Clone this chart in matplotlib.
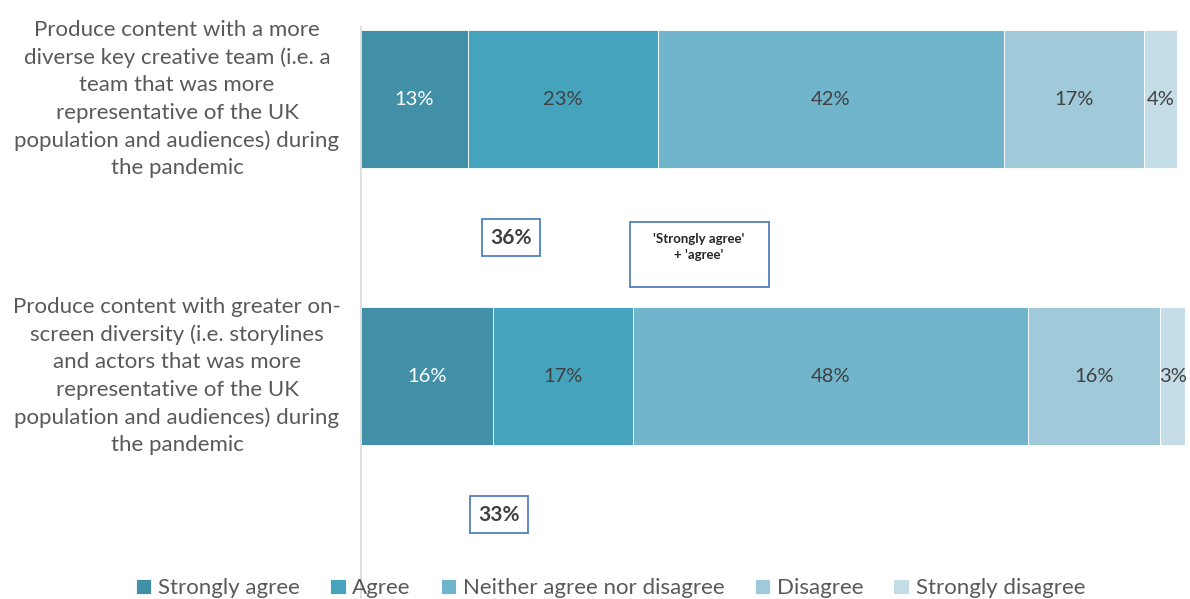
import matplotlib.pyplot as plt
from matplotlib.patches import Rectangle
from matplotlib.transforms import blended_transform_factory
import numpy as np

# survey data
questions = ["Produce content with a more\ndiverse key creative team (i.e. a\nteam that was more\nrepresentative of the UK\npopulation and audiences) during\nthe pandemic",
             "Produce content with greater on-\nscreen diversity (i.e. storylines\nand actors that was more\nrepresentative of the UK\npopulation and audiences) during\nthe pandemic"]
responses = ["Strongly agree", "Agree", "Neither agree nor disagree", "Disagree", "Strongly disagree"]
strongly_agree = [13, 16]
agree = [23, 17]
neither = [42, 48]
disagree = [17, 16]
strongly_disagree = [4, 3]

colors = ["#4190a8", "#46a3be", "#71b5cd", "#a0c9da", "#c5dde6"]
label_colors = ["white", "#404040", "#404040", "#404040", "#404040"]

plt.rcParams['font.family'] = ['Lato', 'DejaVu Sans']

fig = plt.figure(figsize=(11.9, 5.99), dpi=100)
ax = fig.add_axes([361/1190, 0.0, 824/1190, 1 - 27/599])

series = [strongly_agree, agree, neither, disagree, strongly_disagree]
y = np.arange(len(questions))
left = np.zeros(len(questions))
for vals, name, col, lc in zip(series, responses, colors, label_colors):
    bars = ax.barh(y, vals, left=left, height=0.5, color=col, edgecolor='white',
                   linewidth=0.6, label=name)
    for b, v in zip(bars, vals):
        ax.text(b.get_x() + b.get_width()/2, b.get_y() + b.get_height()/2, f"{v}%",
                ha='center', va='center', fontsize=14.5, color=lc)
    left += np.array(vals)

ax.set_xlim(0, 100)
ax.set_ylim(1.805, -0.26)
ax.set_xticks([])
ax.set_yticks([])
for s in ['top', 'right', 'bottom']:
    ax.spines[s].set_visible(False)
ax.spines['left'].set_color('#d9d9d9')
ax.spines['left'].set_linewidth(1.2)

# question labels
tr = blended_transform_factory(fig.transFigure, ax.transData)
for yi, q in zip(y, questions):
    ax.text(177/1190, yi, q, transform=tr, ha='center', va='center',
            fontsize=16, color='#595959', linespacing=1.45)

# top-two-box totals
top2 = [a + b for a, b in zip(strongly_agree, agree)]
box_x = [18.2, 16.7]
for yi, bx, t in zip(y, box_x, top2):
    ax.text(bx, yi + 0.5, f"{t}%", ha='center', va='center', fontsize=15,
            fontweight='bold', color='#404040',
            bbox=dict(boxstyle='square,pad=0.4', fc='white', ec='#4f81bd', lw=1.3))

# explanation box
fig.patches.append(Rectangle((630/1190, 1 - 287/599), 139/1190, 65/599,
                             transform=fig.transFigure, fill=False,
                             ec='#4f81bd', lw=1.3))
fig.text(699/1190, 1 - 247/599, "'Strongly agree'\n+ 'agree'", ha='center',
         va='center', fontsize=9.5, fontweight='bold', color='#262626', linespacing=1.4)

fig.legend(loc='center', bbox_to_anchor=(0.513, 0.018), ncol=5, frameon=False,
           fontsize=16, labelcolor='#595959', handlelength=0.7, handleheight=0.7,
           handletextpad=0.3, columnspacing=1.35, borderaxespad=0)

fig.savefig('out.png', dpi=100)
